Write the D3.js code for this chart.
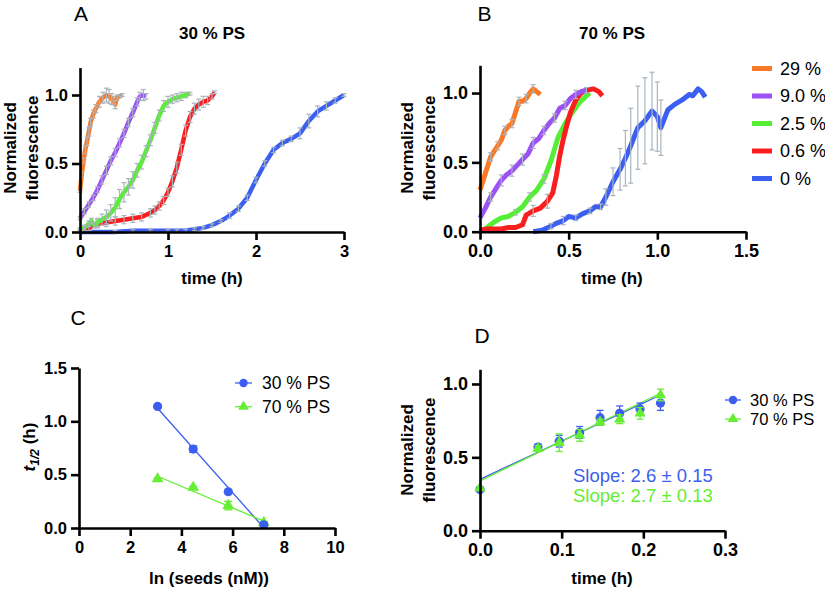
<!DOCTYPE html>
<html><head><meta charset="utf-8">
<script src="https://cdn.jsdelivr.net/npm/d3@7/dist/d3.min.js"></script>
<style>body{margin:0;background:#fff}svg{display:block;font-family:Arial,"Liberation Sans",sans-serif}</style>
</head><body><svg id="c" width="825" height="592"></svg>
<script>
// ---------- DATA ----------
const seedLabels = ["29 %", "9.0 %", "2.5 %", "0.6 %", "0 %"];
const seedColors = ["#f87a27", "#9b51f5", "#55ee35", "#fa1e1e", "#3b5ff0"];

// Panel A (30 % PS)
const a29_t = [0,0.02,0.04,0.06,0.08,0.1,0.12,0.15,0.18,0.22,0.26,0.3,0.33,0.36,0.38,0.4,0.42,0.45,0.48];
const a29_y = [0.3,0.42,0.52,0.6,0.66,0.73,0.8,0.86,0.9,0.95,0.98,1.0,0.99,0.97,0.96,0.93,0.98,0.99,1.0];
const a29_e = [0.01,0.02,0.02,0.03,0.03,0.03,0.03,0.03,0.03,0.04,0.04,0.05,0.05,0.04,0.03,0.03,0.02,0.01,0.01];
const a9_t = [0,0.05,0.1,0.15,0.2,0.25,0.3,0.35,0.4,0.45,0.5,0.55,0.6,0.65,0.68,0.72,0.75];
const a9_y = [0.1,0.15,0.2,0.25,0.31,0.38,0.45,0.52,0.58,0.65,0.72,0.8,0.87,0.95,0.99,1.0,0.99];
const a9_e = [0.01,0.02,0.02,0.02,0.02,0.03,0.03,0.03,0.03,0.03,0.03,0.03,0.03,0.03,0.03,0.04,0.02];
const a25_t = [0,0.05,0.1,0.13,0.16,0.2,0.25,0.3,0.35,0.4,0.45,0.5,0.55,0.6,0.65,0.7,0.75,0.8,0.85,0.9,0.95,1.0,1.05,1.1,1.15,1.2,1.25];
const a25_y = [0.01,0.03,0.06,0.08,0.05,0.07,0.09,0.11,0.14,0.18,0.24,0.29,0.33,0.38,0.45,0.51,0.59,0.67,0.76,0.85,0.92,0.95,0.97,0.98,0.99,1.0,1.01];
const a25_e = [0.01,0.02,0.02,0.02,0.02,0.03,0.04,0.05,0.06,0.07,0.07,0.07,0.06,0.06,0.05,0.05,0.04,0.04,0.04,0.04,0.04,0.04,0.03,0.03,0.03,0.02,0.01];
const a06_t = [0,0.1,0.2,0.3,0.4,0.5,0.6,0.7,0.8,0.85,0.9,0.95,1.0,1.05,1.1,1.15,1.2,1.25,1.3,1.35,1.4,1.45,1.5,1.53];
const a06_y = [0.02,0.03,0.06,0.07,0.08,0.09,0.1,0.11,0.14,0.16,0.19,0.23,0.29,0.37,0.47,0.6,0.74,0.84,0.9,0.93,0.95,0.96,0.99,1.02];
const a06_e = [0.01,0.02,0.03,0.03,0.03,0.03,0.03,0.03,0.03,0.03,0.03,0.03,0.03,0.04,0.04,0.04,0.04,0.04,0.04,0.04,0.04,0.03,0.02,0.01];
const a0_t = [0,0.2,0.4,0.6,0.8,1.0,1.1,1.2,1.3,1.4,1.5,1.6,1.7,1.8,1.9,2.0,2.1,2.2,2.3,2.4,2.5,2.6,2.7,2.8,2.9,3.0];
const a0_y = [0,0,0,0.01,0.01,0.01,0.01,0.01,0.02,0.03,0.05,0.08,0.12,0.17,0.25,0.38,0.5,0.6,0.65,0.68,0.72,0.81,0.88,0.92,0.96,1.0];
const a0_e = [0,0,0.01,0.01,0.01,0.01,0.01,0.01,0.01,0.01,0.01,0.01,0.02,0.02,0.02,0.02,0.02,0.02,0.02,0.02,0.04,0.05,0.04,0.03,0.02,0.01];

// Panel B (70 % PS)
const b29_t = [0,0.02,0.04,0.06,0.08,0.1,0.12,0.14,0.16,0.18,0.2,0.22,0.24,0.26,0.28,0.3,0.32,0.34];
const b29_y = [0.3,0.38,0.46,0.54,0.58,0.62,0.66,0.73,0.76,0.78,0.86,0.94,0.94,0.96,1.0,1.03,1.01,0.99];
const b29_e = [0,0,0,0.03,0,0.03,0,0.03,0,0.03,0,0.03,0,0.03,0,0.03,0,0];
const b9_t = [0,0.03,0.06,0.09,0.12,0.15,0.18,0.21,0.24,0.27,0.3,0.33,0.36,0.39,0.42,0.45,0.48,0.51,0.54,0.57,0.6];
const b9_y = [0.1,0.17,0.25,0.31,0.37,0.41,0.44,0.48,0.52,0.56,0.64,0.67,0.73,0.78,0.82,0.89,0.91,0.96,0.99,1.01,1.02];
const b9_e = [0,0,0.03,0,0.04,0,0.04,0,0.04,0,0.04,0,0.03,0,0.03,0,0.03,0,0.03,0,0.02];
const b25_t = [0,0.04,0.08,0.12,0.16,0.2,0.24,0.28,0.32,0.36,0.4,0.44,0.48,0.52,0.56,0.6,0.62];
const b25_y = [0,0.03,0.07,0.1,0.11,0.14,0.18,0.25,0.3,0.38,0.51,0.68,0.78,0.86,0.93,0.98,1.0];
const b25_e = [0,0,0,0,0,0.02,0,0.03,0,0.03,0,0,0,0,0,0,0];
const b06_t = [0,0.04,0.08,0.12,0.16,0.2,0.24,0.26,0.3,0.34,0.38,0.41,0.43,0.45,0.47,0.49,0.51,0.54,0.57,0.6,0.64,0.67,0.69];
const b06_y = [0.01,0.02,0.02,0.02,0.03,0.03,0.05,0.12,0.15,0.17,0.22,0.28,0.4,0.55,0.67,0.77,0.86,0.95,1.0,1.02,1.03,1.01,0.98];
const b06_e = [0,0,0,0,0,0,0,0,0.04,0,0.05,0,0,0,0,0,0,0,0,0,0,0,0];
const b0_t = [0.3,0.35,0.4,0.43,0.47,0.5,0.54,0.58,0.62,0.65,0.68,0.71,0.75,0.79,0.82,0.85,0.89,0.93,0.97,1.0,1.02,1.06,1.1,1.14,1.18,1.2,1.23,1.25,1.27];
const b0_y = [0,0.01,0.04,0.06,0.08,0.11,0.1,0.13,0.15,0.18,0.18,0.25,0.36,0.45,0.53,0.62,0.75,0.8,0.87,0.83,0.75,0.88,0.92,0.95,0.99,0.98,1.03,1.01,0.97];
const b0_e = [0,0,0.02,0,0.03,0,0.02,0,0.02,0,0.02,0.06,0.1,0.15,0.2,0.27,0.3,0.31,0.28,0.25,0.2,0,0,0,0,0,0,0,0];

// Panel C
const psLabels = ["30 % PS", "70 % PS"];
const psColors = ["#3c5ef0", "#66ee33"];
const cX = [3.07, 4.46, 5.83, 7.22];
const c30 = [1.14, 0.74, 0.34, 0.03];
const c30Err = [0.01, 0.03, 0.01, 0.01];
const c70 = [0.46, 0.38, 0.21, 0.05];
const c70Err = [0.01, 0.01, 0.04, 0.01];

// Panel D
const dX = [0, 0.071, 0.097, 0.122, 0.147, 0.171, 0.196, 0.221];
const d30 = [0.28, 0.57, 0.61, 0.67, 0.77, 0.80, 0.83, 0.87];
const d30Err = [0.01, 0.02, 0.04, 0.04, 0.05, 0.05, 0.04, 0.05];
const d70 = [0.29, 0.56, 0.60, 0.65, 0.74, 0.76, 0.80, 0.925];
const d70Err = [0.01, 0.02, 0.06, 0.04, 0.02, 0.03, 0.04, 0.04];
const dSlopes = [2.6, 2.7];
const dIntercepts = [0.35, 0.34];
const dSlopeText = ["Slope: 2.6 \u00b1 0.15", "Slope: 2.7 \u00b1 0.13"];

// ---------- DRAW ----------
const svg = d3.select("#c");
const ERR = "#a9b4bd";

function axes(x, y, xt, yt, xf, yf, fs) {
  const gx = svg.append("g").attr("transform", `translate(0,${y.range()[0]})`)
    .call(d3.axisBottom(x).tickValues(xt).tickFormat(xf).tickSize(8).tickPadding(5).tickSizeOuter(0));
  const gy = svg.append("g").attr("transform", `translate(${x.range()[0]},0)`)
    .call(d3.axisLeft(y).tickValues(yt).tickFormat(yf).tickSize(8).tickPadding(4).tickSizeOuter(0));
  [gx, gy].forEach(g => {
    g.selectAll("path,line").attr("stroke", "#000").attr("stroke-width", 2.6);
    g.selectAll("text").attr("fill", "#000").style("font-size", fs + "px").style("font-weight", "bold");
  });
}
function txt(x, y, s, o = {}) {
  const t = svg.append("text").attr("x", x).attr("y", y).text(s)
    .style("font-size", (o.fs || 17) + "px").style("font-weight", o.w || "bold")
    .attr("text-anchor", o.a || "middle").attr("fill", o.c || "#000");
  if (o.rot) t.attr("transform", `rotate(-90,${x},${y})`);
  if (o.db) t.attr("dominant-baseline", o.db);
  return t;
}
function errBars(x, y, ts, ys, es, cap, col, w) {
  const g = svg.append("g");
  ts.forEach((t, i) => {
    if (!es[i]) return;
    const xx = x(t), y1 = y(ys[i] - es[i]), y2 = y(ys[i] + es[i]);
    g.append("line").attr("x1", xx).attr("x2", xx).attr("y1", y1).attr("y2", y2).attr("stroke", col).attr("stroke-width", w);
    [y1, y2].forEach(yy => g.append("line").attr("x1", xx - cap).attr("x2", xx + cap).attr("y1", yy).attr("y2", yy).attr("stroke", col).attr("stroke-width", w));
  });
}
function curve(x, y, ts, ys, col, w) {
  const line = d3.line().x(d => x(d[0])).y(d => y(d[1]));
  svg.append("path").attr("d", line(ts.map((t, i) => [t, ys[i]]))).attr("fill", "none")
    .attr("stroke", col).attr("stroke-width", w).attr("stroke-linejoin", "round");
}

// Panel A
{
  const x = d3.scaleLinear().domain([0, 3]).range([80, 344]);
  const y = d3.scaleLinear().domain([0, 1.2]).range([232, 67.6]);
  const S = [[a0_t,a0_y,a0_e],[a06_t,a06_y,a06_e],[a25_t,a25_y,a25_e],[a9_t,a9_y,a9_e],[a29_t,a29_y,a29_e]];
  const C = [seedColors[4], seedColors[3], seedColors[2], seedColors[1], seedColors[0]];
  S.forEach((s, i) => { curve(x, y, s[0], s[1], C[i], 4.5); errBars(x, y, s[0], s[1], s[2], 2.5, ERR, 1.2); });
  axes(x, y, [0,1,2,3], [0,0.5,1.0], d3.format("d"), d3.format(".1f"), 16.5);
  txt(212, 39, "30 % PS");
  txt(212, 284, "time (h)");
  txt(16, 148, "Normalized", {rot: true});
  txt(38, 148, "fluorescence", {rot: true});
  txt(81, 21, "A", {fs: 21, w: "normal"});
}
// Panel B
{
  const x = d3.scaleLinear().domain([0, 1.5]).range([480, 746]);
  const y = d3.scaleLinear().domain([0, 1.2]).range([231.7, 65.3]);
  const S = [[b0_t,b0_y,b0_e],[b25_t,b25_y,b25_e],[b06_t,b06_y,b06_e],[b9_t,b9_y,b9_e],[b29_t,b29_y,b29_e]];
  const C = [seedColors[4], seedColors[2], seedColors[3], seedColors[1], seedColors[0]];
  S.forEach((s, i) => curve(x, y, s[0], s[1], C[i], 5));
  S.forEach((s, i) => errBars(x, y, s[0], s[1], s[2], 2.5, ERR, 1.2));
  axes(x, y, [0,0.5,1.0,1.5], [0,0.5,1.0], d3.format(".1f"), d3.format(".1f"), 18);
  txt(612, 39, "70 % PS");
  txt(612, 284, "time (h)");
  txt(413, 148, "Normalized", {rot: true});
  txt(435, 148, "fluorescence", {rot: true});
  txt(484.5, 21, "B", {fs: 21, w: "normal"});
  const ly = d3.scalePoint().domain(seedLabels).range([68.5, 178.5]);
  seedLabels.forEach((l, i) => {
    svg.append("line").attr("x1", 752).attr("x2", 772).attr("y1", ly(l)).attr("y2", ly(l))
      .attr("stroke", seedColors[i]).attr("stroke-width", 5);
    txt(780, ly(l), l, {a: "start", w: "normal", fs: 18, db: "central"});
  });
}
// Panel C
{
  const x = d3.scaleLinear().domain([0, 10]).range([79, 335]);
  const y = d3.scaleLinear().domain([0, 1.5]).range([528, 368]);
  const sets = [[c30, c30Err], [c70, c70Err]];
  sets.forEach((s, k) => {
    const mx = d3.mean(cX), my = d3.mean(s[0]);
    const b = d3.sum(cX, (v, i) => (v - mx) * (s[0][i] - my)) / d3.sum(cX, v => (v - mx) ** 2);
    const a = my - b * mx;
    const x0 = d3.min(cX), x1 = d3.max(cX);
    svg.append("line").attr("x1", x(x0)).attr("x2", x(x1)).attr("y1", y(a + b * x0)).attr("y2", y(a + b * x1))
      .attr("stroke", psColors[k]).attr("stroke-width", 1.3);
  });
  errBars(x, y, cX, c70, c70Err, 4, psColors[1], 1.3);
  svg.append("g").selectAll("path").data(cX).join("path")
    .attr("transform", (d, i) => `translate(${x(d)},${y(c70[i])})`)
    .attr("d", d3.symbol(d3.symbolTriangle, 60)).attr("fill", psColors[1]);
  errBars(x, y, cX, c30, c30Err, 4, psColors[0], 1.3);
  svg.append("g").selectAll("circle").data(cX).join("circle")
    .attr("cx", d => x(d)).attr("cy", (d, i) => y(c30[i])).attr("r", 4.6).attr("fill", psColors[0]);
  axes(x, y, [0,2,4,6,8,10], [0,0.5,1.0,1.5], d3.format("d"), d3.format(".1f"), 16.5);
  txt(209, 584, "ln (seeds (nM))");
  const t = svg.append("text").attr("transform", "rotate(-90,35,447)").attr("x", 35).attr("y", 447)
    .attr("text-anchor", "middle").style("font-size", "17px").style("font-weight", "bold");
  t.append("tspan").text("t").style("font-style", "italic");
  t.append("tspan").text("1/2").style("font-style", "italic").style("font-size", "12px").attr("dy", 4);
  t.append("tspan").text(" (h)").attr("dy", -4);
  txt(78, 325, "C", {fs: 21, w: "normal"});
  const ly = d3.scalePoint().domain(psLabels).range([383, 406.7]);
  psLabels.forEach((l, i) => {
    svg.append("line").attr("x1", 235).attr("x2", 252).attr("y1", ly(l)).attr("y2", ly(l)).attr("stroke", psColors[i]).attr("stroke-width", 1.3);
    if (i === 0) svg.append("circle").attr("cx", 243.5).attr("cy", ly(l)).attr("r", 4.2).attr("fill", psColors[i]);
    else svg.append("path").attr("transform", `translate(243.5,${ly(l)})`).attr("d", d3.symbol(d3.symbolTriangle, 50)).attr("fill", psColors[i]);
    txt(262, ly(l), l, {a: "start", w: "normal", fs: 17.5, db: "central"});
  });
}
// Panel D
{
  const x = d3.scaleLinear().domain([0, 0.3]).range([480, 725]);
  const y = d3.scaleLinear().domain([0, 1.1]).range([530.7, 369.3]);
  const xe = d3.max(dX);
  dSlopes.forEach((s, k) => {
    svg.append("line").attr("x1", x(0)).attr("x2", x(xe)).attr("y1", y(dIntercepts[k])).attr("y2", y(dIntercepts[k] + s * xe))
      .attr("stroke", psColors[k]).attr("stroke-width", 1.3);
  });
  errBars(x, y, dX, d30, d30Err, 3.5, psColors[0], 1.3);
  svg.append("g").selectAll("circle").data(dX).join("circle")
    .attr("cx", d => x(d)).attr("cy", (d, i) => y(d30[i])).attr("r", 4.6).attr("fill", psColors[0]);
  errBars(x, y, dX, d70, d70Err, 3.5, psColors[1], 1.3);
  svg.append("g").selectAll("path").data(dX).join("path")
    .attr("transform", (d, i) => `translate(${x(d)},${y(d70[i])})`)
    .attr("d", d3.symbol(d3.symbolTriangle, 55)).attr("fill", psColors[1]);
  axes(x, y, [0,0.1,0.2,0.3], [0,0.5,1.0], d3.format(".1f"), d3.format(".1f"), 18);
  txt(602, 584, "time (h)");
  txt(413, 450, "Normalized", {rot: true});
  txt(435, 450, "fluorescence", {rot: true});
  txt(482, 343, "D", {fs: 21, w: "normal"});
  txt(573, 482, dSlopeText[0], {a: "start", w: "normal", fs: 18.5, c: psColors[0]});
  txt(573, 502, dSlopeText[1], {a: "start", w: "normal", fs: 18.5, c: psColors[1]});
  const ly = d3.scalePoint().domain(psLabels).range([400, 419]);
  psLabels.forEach((l, i) => {
    svg.append("line").attr("x1", 725).attr("x2", 741).attr("y1", ly(l)).attr("y2", ly(l)).attr("stroke", psColors[i]).attr("stroke-width", 1.3);
    if (i === 0) svg.append("circle").attr("cx", 733).attr("cy", ly(l)).attr("r", 4.2).attr("fill", psColors[i]);
    else svg.append("path").attr("transform", `translate(733,${ly(l)})`).attr("d", d3.symbol(d3.symbolTriangle, 50)).attr("fill", psColors[i]);
    txt(750, ly(l), l, {a: "start", w: "normal", fs: 16.5, db: "central"});
  });
}
</script></body></html>
